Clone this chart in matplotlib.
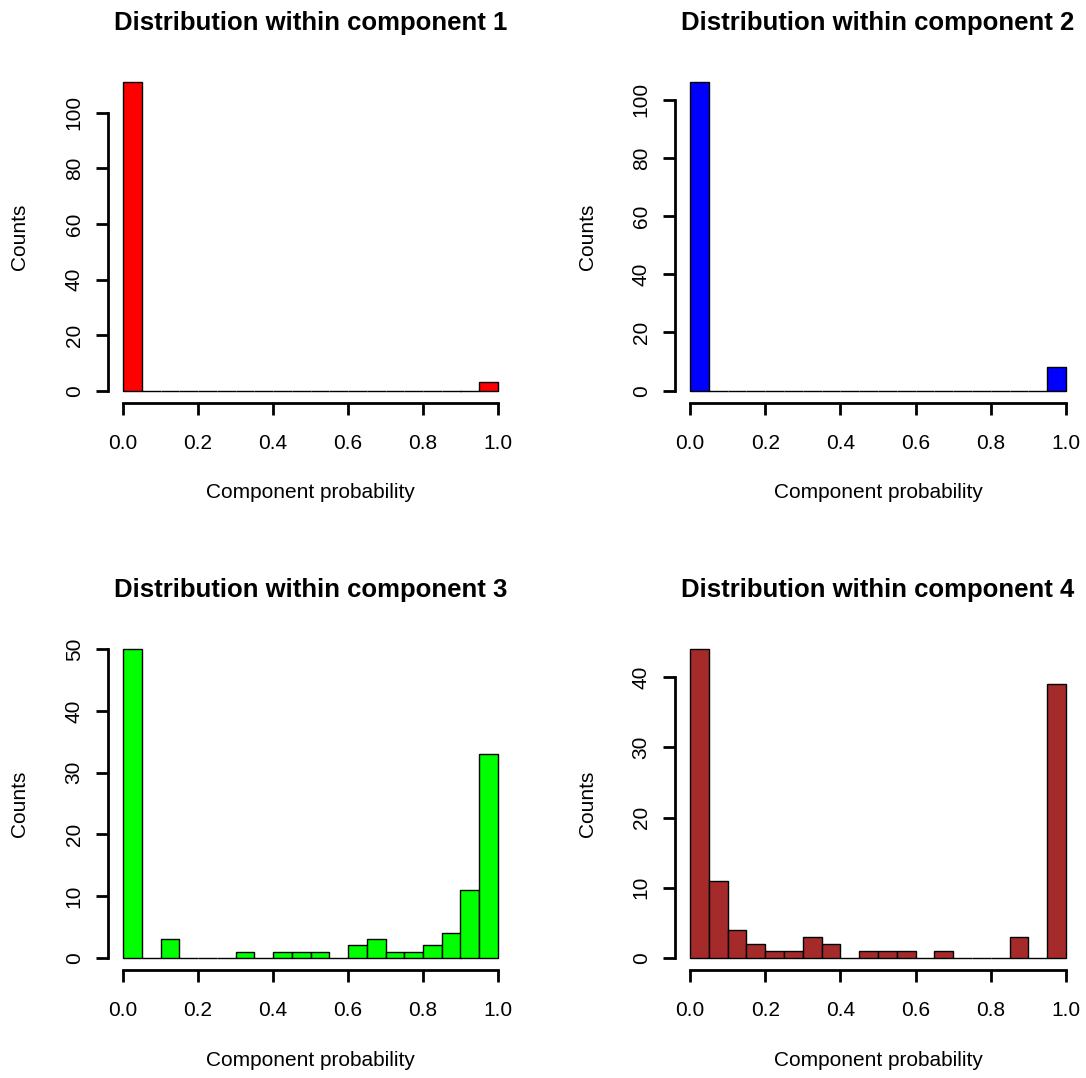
import numpy as np
import matplotlib
matplotlib.use("Agg")
import matplotlib.pyplot as plt

plt.rcParams['font.family'] = ['Liberation Sans', 'DejaVu Sans']

bin_edges = np.linspace(0, 1, 21)
counts1 = [111, 0, 0, 0, 0, 0, 0, 0, 0, 0, 0, 0, 0, 0, 0, 0, 0, 0, 0, 3]
counts2 = [106, 0, 0, 0, 0, 0, 0, 0, 0, 0, 0, 0, 0, 0, 0, 0, 0, 0, 0, 8]
counts3 = [50, 0, 3, 0, 0, 0, 1, 0, 1, 1, 1, 0, 2, 3, 1, 1, 2, 4, 11, 33]
counts4 = [44, 11, 4, 2, 1, 1, 3, 2, 0, 1, 1, 1, 0, 1, 0, 0, 0, 3, 0, 39]
colors = ['#FF0000', '#0000FF', '#00FF00', '#A52A2A']
titles = ['Distribution within component 1', 'Distribution within component 2',
          'Distribution within component 3', 'Distribution within component 4']
yticks = [np.arange(0, 101, 20), np.arange(0, 101, 20), np.arange(0, 51, 10), np.arange(0, 41, 10)]
xticks = [0.0, 0.2, 0.4, 0.6, 0.8, 1.0]

fig = plt.figure(figsize=(10.86, 10.78), dpi=100)
W, H = 1086, 1078
boxes = [(108, 70, 513, 403), (675, 70, 1081, 403), (108, 637, 513, 970), (675, 637, 1081, 970)]

for i, counts in enumerate([counts1, counts2, counts3, counts4]):
    x0, y0, x1, y1 = boxes[i]
    ph = y1 - y0
    pw = x1 - x0
    ax = fig.add_axes([x0 / W, (H - y1) / H, pw / W, ph / H])
    ax.bar(bin_edges[:-1], counts, width=0.05, align='edge', color=colors[i],
           edgecolor='black', linewidth=1.0)
    m = max(counts)
    ax.set_xlim(-0.04, 1.04)
    ax.set_ylim(-0.04 * m, 1.04 * m)
    for s in ['top', 'right']:
        ax.spines[s].set_visible(False)
    ax.spines['left'].set_bounds(yticks[i][0], yticks[i][-1])
    ax.spines['bottom'].set_bounds(0, 1)
    ax.spines['left'].set_linewidth(2.0)
    ax.spines['bottom'].set_linewidth(2.0)
    ax.spines['left'].set_capstyle('projecting')
    ax.spines['bottom'].set_capstyle('projecting')
    ax.set_xticks(xticks)
    ax.set_xticklabels(['%.1f' % v for v in xticks])
    ax.set_yticks(yticks[i])
    ax.set_yticklabels([str(v) for v in yticks[i]], rotation=90, va='center')
    ax.tick_params(axis='both', length=8.5, width=2.0, labelsize=15)
    ax.tick_params(axis='x', pad=14)
    ax.tick_params(axis='y', pad=9)
    ax.text(0.5, (y1 - (y0 - 47)) / ph, titles[i], transform=ax.transAxes,
            ha='center', va='center', fontsize=18.5, fontweight='bold')
    ax.set_xlabel('Component probability', fontsize=15, va='center')
    ax.xaxis.set_label_coords(0.5, -(90.0 / ph))
    ax.set_ylabel('Counts', fontsize=15, va='center')
    ax.yaxis.set_label_coords(-(88.0 / pw), 0.5)

fig.savefig('out.png', dpi=100)
